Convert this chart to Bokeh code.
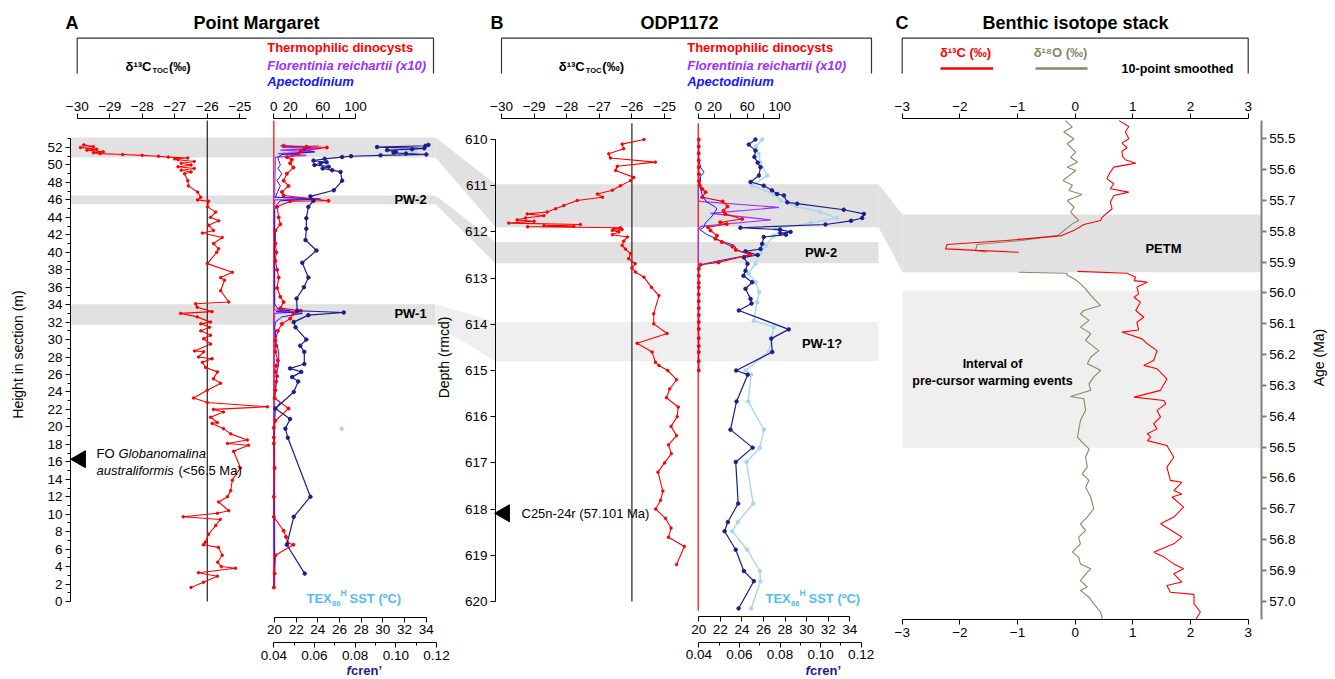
import numpy as np
from bokeh.plotting import figure
from bokeh.models import Range1d, LinearAxis, FixedTicker, Label, NumeralTickFormatter
from bokeh.embed import file_html
from bokeh.resources import INLINE

# ======================= DATA =======================
# ---- Panel A: Point Margaret (height in section, m) ----
pm_d13c = [(1.6,-26.5),(2.2,-26.12),(2.9,-25.69),(3.3,-26.27),(3.8,-25.13),(4.0,-25.57),(4.5,-25.68),
           (5.3,-25.54),(6.2,-25.66),(6.5,-26.12),(6.8,-26.06),(7.7,-25.96),(8.7,-25.74),(9.4,-25.6),
           (9.7,-26.74),(10.1,-25.69),(10.4,-25.34),(11.4,-25.65),(12.0,-25.38),(12.7,-25.28),(13.9,-25.23),
           (15.3,-24.98),(17.2,-25.19),(17.9,-24.73),(18.1,-25.38),(18.5,-24.77),(19.2,-25.28),(19.8,-25.5),
           (20.4,-25.85),(20.5,-25.69),(21.1,-25.9),(21.7,-25.5),(22.0,-25.81),(22.3,-24.15),(22.8,-26.0),
           (23.3,-26.42),(24.2,-26.0),(25.0,-25.59),(25.5,-25.81),(26.3,-25.69),(26.8,-26.05),(27.4,-26.15),
           (27.8,-25.85),(28.0,-26.27),(28.6,-26.11),(28.7,-26.39),(29.5,-25.9),(30.1,-26.11),(30.5,-25.9),
           (31.0,-26.2),(31.4,-25.93),(31.8,-26.2),(32.0,-25.9),(32.6,-26.31),(33.0,-26.82),(33.2,-25.85),
           (33.7,-26.31),(34.1,-26.36),(34.3,-25.34),(35.6,-25.59),(36.8,-25.47),(37.1,-25.59),(37.7,-25.23),
           (38.7,-26.0),(40.0,-25.71),(40.4,-25.65),(41.0,-25.81),(41.7,-25.54),(42.2,-26.15),(42.5,-25.81),
           (43.1,-25.96),(43.6,-25.65),(44.0,-25.9),(44.6,-25.74),(45.2,-25.99),(45.85,-25.96),(46.0,-26.3),
           (46.3,-26.2),(46.9,-26.3),(47.6,-26.58),(48.2,-26.6),(49.0,-26.7),(49.2,-26.5),(49.4,-26.8),
           (49.6,-26.4),(49.8,-26.9),(50.0,-26.5),(50.2,-26.8),(50.4,-26.4),(50.6,-26.9),(50.7,-27.0),
           (50.8,-26.6),(50.9,-27.2),(51.0,-27.5),(51.1,-28.0),(51.2,-28.6),(51.3,-29.3),(51.4,-29.5),
           (51.5,-29.2),(51.7,-29.7),(51.8,-29.4),(52.0,-29.9),(52.1,-29.5),(52.3,-29.8)]
pm_dino = [(1.6,0),(3.2,1),(5.3,2),(6.5,24),(6.7,17),(7.4,15),(8.1,12),(9.7,0),(12.0,0),(15.3,1),(18.1,0),
           (18.8,0),(19.9,0),(20.7,2),(22.1,18),(23.3,1),(24.2,2),(25.2,3),(25.8,4),(26.3,2),(27.0,3),
           (27.6,5),(28.6,2),(29.3,3),(29.9,2),(31.0,5),(31.8,10),(32.4,20),(33.0,24),(33.3,33),(33.6,8),
           (34.3,12),(34.9,8),(35.9,4),(37.1,6),(38.0,4),(39.0,2),(40.0,3),(41.0,2),(42.5,2),(43.2,8),
           (44.0,6),(45.2,4),(45.85,20),(45.9,67),(46.5,12),(46.9,10),(47.6,18),(48.2,12),(49.0,16),
           (49.7,24),(50.2,20),(50.6,22),(50.9,16),(51.3,30),(51.6,33),(52.0,65),(52.1,40),(52.2,12)]
pm_apect = [(1.6,0),(3.2,0.5),(5.3,1),(6.6,0.5),(9.7,0.5),(12.0,0.5),(15.3,0.5),(18.1,0.5),(19.9,0.5),
            (20.7,1),(22.1,2),(22.8,8),(23.3,1),(24.0,2),(25.2,3),(26.3,4),(27.2,6),(28.6,6),(29.9,2),
            (31.0,2),(31.4,1),(32.0,2),(32.6,10),(33.0,35),(33.2,3),(33.3,20),(33.5,5),(34.1,1),(35.0,1),
            (38.0,1),(42.0,1),(44.9,1),(45.5,4),(45.9,8),(46.1,57),(46.3,2),(47.0,5),(47.6,8),(48.2,4),
            (49.0,10),(49.6,5),(50.0,8),(50.5,6),(50.9,5),(51.2,10),(51.5,50),(51.8,35),(52.0,45),(52.2,8)]
pm_flor = [(1.6,1),(33.0,1),(33.2,30),(33.4,1),(46.0,1),(46.1,55),(46.3,1),(50.9,2),(51.1,40),(51.3,5),
           (51.5,50),(51.7,8),(51.9,57),(52.0,10),(52.2,55)]
pm_fcren = [(3.2,0.0552),(6.5,0.0464),(9.7,0.0498),(12.0,0.058),(18.75,0.0469),(19.8,0.0457),(20.9,0.048),
            (22.1,0.0408),(24.0,0.0498),(25.2,0.052),(25.7,0.049),(26.3,0.0535),(26.7,0.048),(27.2,0.055),
            (28.6,0.055),(29.3,0.053),(30.0,0.056),(31.4,0.0507),(32.0,0.0498),(32.8,0.057),(33.1,0.0744),
            (33.3,0.0515),(34.7,0.0512),(36.0,0.0548),(37.1,0.057),(38.8,0.054),(40.2,0.061),(41.4,0.0556),
            (42.7,0.056),(43.9,0.056),(45.2,0.057),(45.9,0.0595),(46.4,0.058),(47.1,0.0695),(48.2,0.0736),
            (49.2,0.0728),(49.4,0.0687),(49.6,0.064),(49.8,0.067),(50.0,0.06),(50.2,0.063),(50.3,0.066),
            (50.5,0.0595),(50.7,0.065),(50.9,0.0736),(51.0,0.078),(51.1,0.0925),(51.2,0.115),(51.3,0.105),
            (51.4,0.0989),(51.5,0.1),(51.7,0.0957),(51.8,0.108),(51.9,0.114),(52.05,0.0908),(52.2,0.1146),
            (52.3,0.116)]
pm_tex = [(51.2,31.6),(51.4,33.0),(51.6,32.2),(51.9,31.7)]
pm_tex_single = [(19.8,26.2)]
pm_bands_dark = [(50.86,53.15),(45.5,46.5),(31.7,34.05)]
pm_fo_height = 16.3

# ---- Panel B: ODP1172 (depth, rmcd) ----
odp_d13c = [(610.0,-25.63),(610.1,-26.3),(610.2,-26.25),(610.31,-26.71),(610.4,-26.66),(610.49,-25.28),
            (610.58,-26.45),(610.67,-26.5),(610.82,-25.94),(610.89,-26.04),(611.0,-26.35),(611.1,-26.6),
            (611.18,-27.06),(611.25,-26.9),(611.32,-27.68),(611.43,-28.09),(611.5,-28.34),(611.57,-28.6),
            (611.61,-29.21),(611.65,-28.7),(611.7,-29.26),(611.74,-29.52),(611.77,-29.0),(611.81,-29.78),
            (611.84,-27.58),(611.86,-28.7),(611.88,-27.78),(611.89,-29.2),(611.91,-26.35),(611.93,-26.55),
            (611.95,-26.3),(611.97,-26.6),(612.0,-26.4),(612.06,-26.6),(612.11,-26.14),(612.2,-26.25),
            (612.29,-26.3),(612.37,-26.2),(612.47,-26.04),(612.58,-26.1),(612.69,-25.9),(612.78,-26.0),
            (612.87,-25.89),(612.98,-25.63),(613.2,-25.4),(613.38,-25.17),(613.77,-25.33),(613.99,-25.33),
            (614.2,-24.92),(614.41,-25.84),(614.6,-25.38),(614.82,-25.28),(614.89,-25.17),(615.0,-24.9),
            (615.2,-24.63),(615.4,-24.84),(615.59,-24.94),(615.79,-24.58),(616.0,-24.61),(616.21,-24.8),
            (616.41,-24.63),(616.61,-24.88),(616.8,-24.79),(617.0,-25.0),(617.2,-25.2),(617.61,-25.05),
            (617.81,-25.12),(618.0,-25.27),(618.2,-24.97),(618.41,-24.8),(618.61,-24.88),(618.81,-24.39),
            (619.2,-24.63)]
odp_dino = [(610.0,0.7),(610.15,0.7),(610.3,0.7),(610.45,0.7),(610.6,0.7),(610.75,1),(610.9,1),(611.0,2),
            (611.07,5),(611.14,9),(611.25,5),(611.34,30),(611.45,36),(611.54,31),(611.61,33),(611.72,54),
            (611.79,27),(611.83,35),(611.9,12),(611.97,15),(612.08,23),(612.15,21),(612.22,29),(612.32,42),
            (612.39,46),(612.49,64),(612.66,25),(612.71,3),(612.8,0.7),(612.95,0.7),(613.1,0.7),(613.2,0.7),
            (613.35,0.7),(613.5,0.7),(613.65,0.7),(613.8,0.7),(613.95,0.7),(614.1,0.7),(614.3,0.7),
            (614.47,0.7),(614.6,0.7),(614.8,0.7),(615.0,0.7)]
odp_apect = [(610.0,0.5),(610.4,0.5),(610.6,3),(610.71,7),(610.8,3),(611.0,2),(611.2,5),(611.35,10),
             (611.45,20),(611.5,23),(611.61,19),(611.7,15),(611.8,9),(611.9,7),(611.95,2),(612.05,10),
             (612.19,27),(612.29,44),(612.4,48),(612.49,66),(612.62,27),(612.71,3),(612.8,0.5),(615.0,0.5)]
odp_flor = [(610.0,0.3),(611.3,0.3),(611.34,2),(611.47,99),(611.6,15),(611.74,89),(611.88,3),(611.95,0.3),
            (615.0,0.3)]
odp_fcren = [(610.0,0.0679),(610.11,0.0646),(610.24,0.0679),(610.38,0.0674),(610.5,0.069),(610.6,0.0704),
             (610.78,0.0696),(610.92,0.0655),(611.0,0.072),(611.1,0.076),(611.18,0.0786),(611.21,0.0819),
             (611.36,0.0836),(611.39,0.0885),(611.52,0.1114),(611.61,0.1213),(611.7,0.1205),(611.76,0.115),
             (611.84,0.1024),(611.91,0.0605),(611.95,0.08),(612.0,0.0852),(612.03,0.0802),(612.06,0.083),
             (612.11,0.072),(612.26,0.0712),(612.37,0.0704),(612.42,0.063),(612.5,0.069),(612.55,0.0622),
             (612.69,0.064),(612.84,0.063),(612.95,0.062),(613.09,0.0663),(613.23,0.063),(613.45,0.0655),
             (613.55,0.066),(613.7,0.0597),(614.11,0.0843),(614.31,0.0757),(614.6,0.0762),(615.0,0.0584),
             (615.09,0.0641),(615.67,0.0586),(616.28,0.0556),(616.67,0.0665),(616.98,0.0582),(617.88,0.0594),
             (618.28,0.0543),(618.48,0.0527),(618.88,0.0582),(619.34,0.0622),(619.56,0.0671),(620.15,0.0596)]
odp_tex = [(610.0,25.88),(610.15,25.3),(610.31,25.56),(610.5,25.7),(610.78,26.34),(611.0,24.95),
           (611.18,26.95),(611.32,27.57),(611.45,29.0),(611.57,31.28),(611.7,32.83),(611.81,30.36),
           (611.93,27.1),(612.0,27.5),(612.08,26.95),(612.3,26.2),(612.47,25.72),(612.69,25.26),(612.9,24.6),
           (613.09,25.26),(613.3,25.6),(613.52,25.41),(613.92,25.1),(614.06,26.95),(614.6,26.49),
           (615.0,24.33),(615.09,24.86),(615.67,24.58),(616.28,26.03),(616.67,25.66),(616.98,24.42),
           (617.88,25.04),(618.28,23.62),(618.48,23.1),(618.88,24.49),(619.34,25.66),(619.56,25.72),
           (620.15,24.86)]
odp_bands_dark = [(610.97,611.9),(612.22,612.68)]
odp_band_light = (613.95,614.8)
odp_magneto_depth = 618.09

# ---- Panel C: benthic isotope stack (age, Ma; 10-point smoothed) ----
c_d13c_young = [(55.441,0.76),(55.46,0.93),(55.478,0.87),(55.5,0.93),(55.514,0.81),(55.529,0.9),(55.541,0.81),
                (55.557,0.82),(55.568,0.87),(55.579,1.05),(55.592,0.67),(55.61,0.6),(55.63,0.55),(55.646,0.67),
                (55.662,0.61),(55.673,0.93),(55.684,0.67),(55.705,0.61),(55.727,0.64),(55.754,0.47),
                (55.765,0.44),(55.778,0.15),(55.797,-0.02),(55.814,-0.23),(55.83,-1.2),(55.843,-2.22),
                (55.857,-2.25),(55.862,-1.7),(55.868,-0.98)]
c_d13c_old = [(55.93,0.04),(55.936,0.9),(55.949,1.05),(55.96,1.02),(55.965,1.25),(55.981,1.07),(56.003,1.1),
              (56.014,1.02),(56.03,1.13),(56.057,1.05),(56.079,1.19),(56.095,1.07),(56.12,1.1),(56.127,0.81),
              (56.149,1.16),(56.165,1.25),(56.187,1.42),(56.219,1.36),(56.235,1.19),(56.246,1.42),(56.279,1.59),
              (56.316,1.48),(56.338,1.02),(56.349,1.54),(56.36,1.57),(56.381,1.42),(56.403,1.48),(56.424,1.36),
              (56.441,1.42),(56.457,1.25),(56.468,1.31),(56.479,1.25),(56.495,1.59),(56.533,1.71),(56.565,1.59),
              (56.608,1.65),(56.614,1.85),(56.641,1.71),(56.652,1.85),(56.662,1.68),(56.695,1.88),(56.727,1.71),
              (56.749,1.48),(56.792,1.85),(56.814,1.71),(56.841,1.36),(56.857,1.54),(56.879,1.71),(56.895,1.88),
              (56.911,1.71),(56.938,1.85),(56.949,1.59),(56.971,1.65),(56.978,2.06),(57.008,2.06),(57.035,2.17),
              (57.06,2.09)]
c_d18o_young = [(55.441,-0.17),(55.462,-0.05),(55.478,-0.2),(55.5,-0.02),(55.516,-0.14),(55.543,0.01),
                (55.56,-0.08),(55.576,0.04),(55.592,-0.14),(55.603,0.01),(55.635,-0.21),(55.651,-0.05),
                (55.668,-0.11),(55.681,0.12),(55.7,-0.14),(55.722,-0.02),(55.738,-0.08),(55.765,0.06),
                (55.776,-0.05),(55.803,-0.23),(55.814,-0.31),(55.83,-0.94),(55.843,-1.7),(55.862,-1.73),
                (55.868,-1.53)]
c_d18o_old = [(55.933,-0.98),(55.936,-0.14),(55.943,-0.14),(55.954,-0.02),(55.97,0.09),(55.987,0.18),
              (56.008,0.27),(56.041,0.44),(56.057,0.15),(56.068,0.09),(56.089,0.24),(56.111,0.09),(56.132,0.27),
              (56.154,0.18),(56.187,0.41),(56.208,0.27),(56.23,0.21),(56.251,0.44),(56.273,0.32),(56.295,0.24),
              (56.316,0.27),(56.336,-0.08),(56.343,0.15),(56.381,0.18),(56.414,0.09),(56.446,0.06),(56.468,0.04),
              (56.484,0.12),(56.506,0.24),(56.533,0.18),(56.565,0.21),(56.587,0.12),(56.608,0.24),(56.63,0.18),
              (56.662,0.27),(56.7,0.32),(56.727,0.21),(56.749,0.09),(56.771,0.18),(56.792,0.06),(56.814,0.09),
              (56.841,-0.05),(56.857,0.06),(56.879,0.09),(56.895,0.27),(56.906,0.21),(56.933,0.09),(56.954,0.21),
              (56.965,0.09),(56.987,0.24),(57.008,0.32),(57.035,0.44),(57.057,0.47)]
c_petm = (55.7455, 55.9327)
c_precursor = (55.992, 56.502)

# ======================= STYLE / LAYOUT =======================
RED = "#ff0000"
PURPLE = "#9b30ff"
BLUE = "#1515ff"
NAVY = "#1c1c8c"
LBLUE = "#a8d6ee"
TEXC = "#55bdf0"
OLIVE = "#8a8768"
GDARK = "#e1e1e1"
GLIGHT = "#efefef"
FONT = "Liberation Sans"

# the page template has no body margin: the canvas starts at the window's corner
W, H = 1335, 679
X0, X1, Y0, Y1 = 0, W, 0, H

# axis calibrations: (value0, pixel0, value1, pixel1) in window pixels
MAPS = {
    "a_d13": (-30, 76.7, -25, 239.3),
    "a_pct": (0, 273.3, 100, 355.0),
    "a_tex": (20, 274.0, 34, 425.7),
    "a_fc": (0.04, 273.3, 0.12, 436.0),
    "a_h": (0, 601.0, 52, 147.0),
    "b_d13": (-30, 501.0, -25, 664.0),
    "b_pct": (0, 697.7, 100, 779.3),
    "b_tex": (20, 698.3, 34, 849.3),
    "b_fc": (0.04, 698.3, 0.12, 860.7),
    "b_d": (610, 139.0, 620, 601.0),
    "c_iso": (-3, 901.7, 3, 1247.7),
    "c_age": (55.5, 138.3, 57.0, 600.7),
}
XN = ["a_d13", "a_pct", "a_tex", "a_fc", "b_d13", "b_pct", "b_tex", "b_fc", "c_iso"]
YN = ["a_h", "b_d", "c_age"]


def to_px(name, v):
    v0, p0, v1, p1 = MAPS[name]
    return p0 + (v - v0) * (p1 - p0) / (v1 - v0)


def val_at(name, px):
    v0, p0, v1, p1 = MAPS[name]
    return v0 + (px - p0) * (v1 - v0) / (p1 - p0)


p = figure(width=W, height=H, x_range=Range1d(X0, X1), y_range=Range1d(Y1, Y0),
           x_axis_location=None, y_axis_location=None, toolbar_location=None,
           output_backend="svg", min_border=0, outline_line_color=None)
p.grid.visible = False
p.extra_x_ranges = {n: Range1d(val_at(n, X0), val_at(n, X1)) for n in XN}
p.extra_y_ranges = {n: Range1d(val_at(n, Y1), val_at(n, Y0)) for n in YN}


def unzip(pairs):
    a, b = zip(*pairs)
    return list(a), list(b)


def add_axis(side, rng, loc, ticks, bounds, minor=(), fmt=None, color="black", lw=1.0,
             tick_out=5, minor_out=3):
    if side in ("above", "below"):
        ax = LinearAxis(x_range_name=rng)
    else:
        ax = LinearAxis(y_range_name=rng)
    ax.fixed_location = loc
    ax.ticker = FixedTicker(ticks=list(ticks), minor_ticks=list(minor))
    ax.bounds = bounds
    ax.axis_line_color = color
    ax.axis_line_width = lw
    ax.major_tick_line_color = color
    ax.major_tick_line_width = lw
    ax.major_tick_out = tick_out
    ax.major_tick_in = 0
    ax.minor_tick_line_color = color
    ax.minor_tick_out = minor_out
    ax.minor_tick_in = 0
    ax.major_label_text_font = FONT
    ax.major_label_text_font_size = "13.5px"
    ax.major_label_text_color = "black"
    ax.major_label_standoff = 3
    if fmt:
        ax.formatter = NumeralTickFormatter(format=fmt)
    p.add_layout(ax, side)


def lab(x, y, text, size=13, style="normal", color="black", align="left", angle=0.0):
    p.add_layout(Label(x=x, y=y, text=text, text_font=FONT, text_font_size=f"{size}px",
                       text_font_style=style, text_color=color, text_align=align,
                       text_baseline="middle", angle=angle))


# ======================= BANDS =======================
A_L, A_R = 70, 435
B_L, B_R = 495, 878
C_L, C_R = 902, 1260.7

for b0, b1 in pm_bands_dark:
    p.quad(left=A_L, right=A_R, bottom=b0, top=b1, y_range_name="a_h", fill_color=GDARK, line_color=None)
for b0, b1 in odp_bands_dark:
    p.quad(left=B_L, right=B_R, bottom=b1, top=b0, y_range_name="b_d", fill_color=GDARK, line_color=None)
p.quad(left=B_L, right=B_R, bottom=odp_band_light[1], top=odp_band_light[0], y_range_name="b_d",
       fill_color=GLIGHT, line_color=None)
p.quad(left=C_L, right=C_R, bottom=c_petm[1], top=c_petm[0], y_range_name="c_age", fill_color=GDARK, line_color=None)
p.quad(left=C_L, right=C_R, bottom=c_precursor[1], top=c_precursor[0], y_range_name="c_age",
       fill_color=GLIGHT, line_color=None)

# connectors between panels
links = [(pm_bands_dark[0], odp_bands_dark[0], GDARK),
         (pm_bands_dark[1], odp_bands_dark[1], GDARK),
         (pm_bands_dark[2], odp_band_light, GLIGHT)]
for (a0, a1), (d0, d1), col in links:
    xs = [A_R, B_L, B_L, A_R]
    ys = [to_px("a_h", a1), to_px("b_d", d0), to_px("b_d", d1), to_px("a_h", a0)]
    p.patch(xs, ys, fill_color=col, line_color=None)
xs = [B_R, C_L, C_L, B_R]
ys = [to_px("b_d", odp_bands_dark[0][0]), to_px("c_age", c_petm[0]),
      to_px("c_age", c_petm[1]), to_px("b_d", odp_bands_dark[0][1])]
p.patch(xs, ys, fill_color=GDARK, line_color=None)

# ======================= HEADER BOXES =======================
for l, r in [(76.7, 433.0), (501.0, 871.0), (901.7, 1247.7)]:
    p.line([l, l, r, r], [73, 37.7, 37.7, 73], line_color="#333333", line_width=1.2)

# ======================= REFERENCE LINES =======================
p.segment(x0=[-26], y0=[0], x1=[-26], y1=[55.1], x_range_name="a_d13", y_range_name="a_h",
          line_color="#222222", line_width=1.2)
p.segment(x0=[0], y0=[1.5], x1=[0], y1=[55.1], x_range_name="a_pct", y_range_name="a_h",
          line_color=RED, line_width=1.2)
p.segment(x0=[-26], y0=[609.65], x1=[-26], y1=[620.0], x_range_name="b_d13", y_range_name="b_d",
          line_color="#222222", line_width=1.2)
p.segment(x0=[0], y0=[609.65], x1=[0], y1=[620.2], x_range_name="b_pct", y_range_name="b_d",
          line_color=RED, line_width=1.2)

# ======================= PANEL A SERIES =======================
h, v = unzip(pm_flor)
p.line(v, h, x_range_name="a_pct", y_range_name="a_h", line_color=PURPLE, line_width=1.1)
h, v = unzip(pm_apect)
p.line(v, h, x_range_name="a_pct", y_range_name="a_h", line_color=BLUE, line_width=1.0)
h, v = unzip(pm_dino)
p.line(v, h, x_range_name="a_pct", y_range_name="a_h", line_color=RED, line_width=1.1)
p.scatter(v, h, x_range_name="a_pct", y_range_name="a_h", color=RED, size=3)
h, v = unzip(pm_tex)
p.line(v, h, x_range_name="a_tex", y_range_name="a_h", line_color=LBLUE, line_width=1.2)
p.scatter(v, h, x_range_name="a_tex", y_range_name="a_h", color=LBLUE, size=3.5)
h, v = unzip(pm_tex_single)
p.scatter(v, h, x_range_name="a_tex", y_range_name="a_h", color=LBLUE, size=3.5)
h, v = unzip(pm_fcren)
p.line(v, h, x_range_name="a_fc", y_range_name="a_h", line_color=NAVY, line_width=1.2)
p.scatter(v, h, x_range_name="a_fc", y_range_name="a_h", color=NAVY, size=3.5)
h, v = unzip(pm_d13c)
p.line(v, h, x_range_name="a_d13", y_range_name="a_h", line_color=RED, line_width=1.1)
p.scatter(v, h, x_range_name="a_d13", y_range_name="a_h", color=RED, size=2.5)

# ======================= PANEL B SERIES =======================
d, v = unzip(odp_tex)
p.line(v, d, x_range_name="b_tex", y_range_name="b_d", line_color=LBLUE, line_width=1.4)
p.scatter(v, d, x_range_name="b_tex", y_range_name="b_d", color=LBLUE, size=3.5)
d, v = unzip(odp_fcren)
p.line(v, d, x_range_name="b_fc", y_range_name="b_d", line_color=NAVY, line_width=1.2)
p.scatter(v, d, x_range_name="b_fc", y_range_name="b_d", color=NAVY, size=3.5)
d, v = unzip(odp_flor)
p.line(v, d, x_range_name="b_pct", y_range_name="b_d", line_color=PURPLE, line_width=1.1)
d, v = unzip(odp_apect)
p.line(v, d, x_range_name="b_pct", y_range_name="b_d", line_color=BLUE, line_width=1.0)
d, v = unzip(odp_dino)
p.line(v, d, x_range_name="b_pct", y_range_name="b_d", line_color=RED, line_width=1.1)
p.scatter(v, d, x_range_name="b_pct", y_range_name="b_d", color=RED, size=3)
d, v = unzip(odp_d13c)
p.line(v, d, x_range_name="b_d13", y_range_name="b_d", line_color=RED, line_width=1.1)
p.scatter(v, d, x_range_name="b_d13", y_range_name="b_d", color=RED, size=2.5)

# ======================= PANEL C SERIES =======================
for series, col in [(c_d18o_young, OLIVE), (c_d18o_old, OLIVE), (c_d13c_young, RED), (c_d13c_old, RED)]:
    a, v = unzip(series)
    p.line(v, a, x_range_name="c_iso", y_range_name="c_age", line_color=col, line_width=1.1)

# event triangles
p.scatter([80], [pm_fo_height], y_range_name="a_h", marker="triangle", angle=np.pi / 2,
          size=17, color="black")
p.scatter([504], [odp_magneto_depth], y_range_name="b_d", marker="triangle", angle=np.pi / 2,
          size=17, color="black")

# ======================= AXES =======================
add_axis("left", "a_h", 70, range(0, 53, 2), (0, 53), minor=range(1, 54, 2))
add_axis("above", "a_d13", 118, range(-30, -24), (-30, -24.79))
add_axis("above", "a_pct", 118, [0, 20, 60, 100], (0, 100), minor=[40, 80], minor_out=5)
add_axis("below", "a_tex", 616.7, range(20, 35, 2), (20, 34))
add_axis("below", "a_fc", 642, [0.04, 0.06, 0.08, 0.10, 0.12], (0.04, 0.12),
         minor=[0.05, 0.07, 0.09, 0.11], fmt="0.00")

add_axis("left", "b_d", 495, range(610, 621), (610, 620))
add_axis("above", "b_d13", 118, range(-30, -24), (-30, -24.8))
add_axis("above", "b_pct", 118, [0, 20, 60, 100], (0, 100), minor=[40, 80], minor_out=5)
add_axis("below", "b_tex", 616, range(20, 35, 2), (20, 34))
add_axis("below", "b_fc", 641.7, [0.04, 0.06, 0.08, 0.10, 0.12], (0.04, 0.12),
         minor=[0.05, 0.07, 0.09, 0.11], fmt="0.00")

add_axis("above", "c_iso", 118, range(-3, 4), (-3, 3))
add_axis("below", "c_iso", 619, range(-3, 4), (-3, 3))
add_axis("right", "c_age", 1260.7, [round(55.5 + 0.1 * i, 1) for i in range(16)], (55.44, 57.06),
         fmt="0.0", color="#808080", lw=2)

# ======================= TEXT =======================
# titles
lab(65, 22, "A", 18, "bold")
lab(256, 22, "Point Margaret", 18, "bold", align="center")
lab(490, 22, "B", 18, "bold")
lab(679, 22, "ODP1172", 18, "bold", align="center")
lab(895, 22, "C", 18, "bold")
lab(1075, 22, "Benthic isotope stack", 18, "bold", align="center")

# header legends A and B
for dx, lx in [(0, 266.7), (433.3, 686.7)]:
    lab(125 + dx, 66, "δ¹³C", 13, "bold")
    lab(152 + dx, 70, "TOC", 7.5, "bold")
    lab(168.5 + dx, 66, "(‰)", 13, "bold")
    lab(lx, 47, "Thermophilic dinocysts", 13, "bold", RED)
    lab(lx, 65, "Florentinia reichartii (x10)", 13, "bold italic", PURPLE)
    lab(lx, 81, "Apectodinium", 13, "bold italic", BLUE)

# header legend C
lab(965, 52, "δ¹³C (‰)", 13, "bold", RED, align="center")
lab(1060, 52, "δ¹⁸O (‰)", 13, "bold", OLIVE, align="center")
p.segment(x0=[940, 1035], y0=[68, 68], x1=[992.7, 1087], y1=[68, 68], line_color=[RED, OLIVE], line_width=2.5)
lab(1177, 68, "10-point smoothed", 12.5, "bold", align="center")

# bottom axis titles
for tx, fy in [(306, 669.5), (765, 669.5)]:
    lab(tx, 598, "TEX", 13, "bold", TEXC)
    lab(tx + 25.5, 603, "86", 7.5, "bold", TEXC)
    lab(tx + 34, 592, "H", 8.5, "bold", TEXC)
    lab(tx + 43, 598, "SST (ºC)", 13, "bold", TEXC)
    lab(tx + 40, fy, "f", 13, "bold italic", NAVY)
    lab(tx + 44.5, fy, "cren’", 13, "bold", NAVY)

# y-axis titles
lab(17, 354, "Height in section (m)", 14, angle=np.pi / 2, align="center")
lab(443, 357, "Depth (rmcd)", 14, angle=np.pi / 2, align="center")
lab(1318, 357, "Age (Ma)", 14, angle=np.pi / 2, align="center")

# band labels
lab(410, 199, "PW-2", 13, "bold", align="center")
lab(410, 313, "PW-1", 13, "bold", align="center")
lab(820.5, 252, "PW-2", 13, "bold", align="center")
lab(821.5, 343, "PW-1?", 13, "bold", align="center")
lab(1163, 248, "PETM", 13, "bold", align="center")
lab(992, 363, "Interval of", 12.5, "bold", align="center")
lab(992, 380, "pre-cursor warming events", 12.5, "bold", align="center")

# event annotations
lab(96, 453, "FO ", 13)
lab(118, 453, "Globanomalina", 13, "italic")
lab(96, 470, "australiformis", 13, "italic")
lab(178, 470, "(<56.5 Ma)", 13)
lab(521, 513, "C25n-24r (57.101 Ma)", 13)

with open("out.html", "w", encoding="utf-8") as f:
    f.write(file_html(p, INLINE))
